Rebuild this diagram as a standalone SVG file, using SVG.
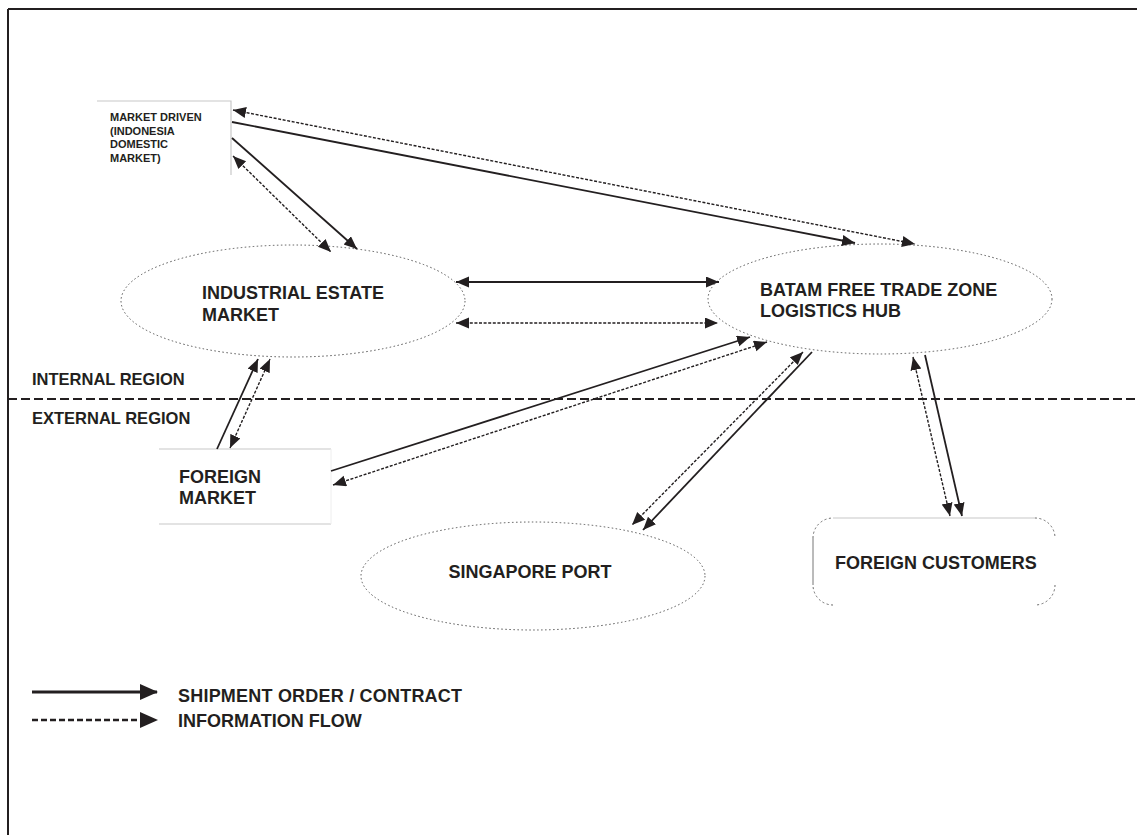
<svg xmlns="http://www.w3.org/2000/svg" width="1137" height="835" viewBox="0 0 1137 835">
<style>
.t{font-family:"Liberation Sans",Arial,sans-serif;font-weight:bold;fill:#231f20}
.big{font-size:18px}
.reg{font-size:16.5px}
.small{font-size:11px}
.ell{fill:none;stroke:#555;stroke-width:1;stroke-dasharray:1.5,2.5}
.sol{fill:none;stroke:#231f20;stroke-width:1.8}
.dot{fill:none;stroke:#231f20;stroke-width:1.4;stroke-dasharray:3,1.6}
.box{fill:none;stroke:#c8c8c8;stroke-width:1.2}
</style>
<defs>
<marker id="ah" markerUnits="userSpaceOnUse" markerWidth="14" markerHeight="12" refX="13" refY="5.5" orient="auto-start-reverse">
<path d="M0,0 L13,5.5 L0,11 z" fill="#231f20"/>
</marker>
</defs>
<rect width="1137" height="835" fill="#fff"/>
<g id="frame">
<line x1="8" y1="9" x2="1137" y2="9" stroke="#231f20" stroke-width="2"/>
<line x1="8" y1="9" x2="8" y2="835" stroke="#231f20" stroke-width="2"/>
</g>
<g id="region-divider">
<line x1="8" y1="399" x2="1137" y2="399" stroke="#231f20" stroke-width="2" stroke-dasharray="9,4"/>
<text class="t reg" x="32" y="385">INTERNAL REGION</text>
<text class="t reg" x="32" y="424">EXTERNAL REGION</text>
</g>
<g id="market-driven">
<polyline class="box" points="97,101 231,101 231,175"/>
<text class="t small" x="110" y="121">MARKET DRIVEN</text>
<text class="t small" x="110" y="134.5">(INDONESIA</text>
<text class="t small" x="110" y="148">DOMESTIC</text>
<text class="t small" x="110" y="161.5">MARKET)</text>
</g>
<g id="industrial-estate">
<ellipse class="ell" cx="293" cy="301" rx="172" ry="56"/>
<text class="t big" x="202" y="299">INDUSTRIAL ESTATE</text>
<text class="t big" x="202" y="321">MARKET</text>
</g>
<g id="batam-hub">
<ellipse class="ell" cx="880" cy="299" rx="172" ry="55"/>
<text class="t big" x="760" y="296">BATAM FREE TRADE ZONE</text>
<text class="t big" x="760" y="317">LOGISTICS HUB</text>
</g>
<g id="foreign-market">
<line class="box" x1="159" y1="449" x2="331" y2="449"/>
<line class="box" x1="159" y1="524" x2="331" y2="524"/>
<line x1="331" y1="449" x2="331" y2="524" stroke="#eee" stroke-width="1"/>
<text class="t big" x="179" y="483">FOREIGN</text>
<text class="t big" x="179" y="504">MARKET</text>
</g>
<g id="singapore-port">
<ellipse class="ell" cx="533" cy="576" rx="172" ry="54"/>
<text class="t big" x="530" y="578" text-anchor="middle">SINGAPORE PORT</text>
</g>
<g id="foreign-customers">
<path d="M813,538 A20,20 0 0 1 833,518 M1035,518 A20,20 0 0 1 1055,538 M1055,585 A20,20 0 0 1 1035,605 M833,605 A20,20 0 0 1 813,585" fill="none" stroke="#666" stroke-width="1" stroke-dasharray="2,2.5"/>
<line x1="833" y1="518" x2="1035" y2="518" stroke="#c8c8c8" stroke-width="1.2"/>
<line x1="813" y1="538" x2="813" y2="585" stroke="#777" stroke-width="1"/>
<text class="t big" x="835" y="569">FOREIGN CUSTOMERS</text>
</g>
<g id="connectors">
<line class="sol" x1="232" y1="122" x2="855" y2="243" marker-end="url(#ah)"/>
<line class="dot" x1="233" y1="110" x2="915" y2="244" marker-start="url(#ah)" marker-end="url(#ah)"/>
<line class="sol" x1="232" y1="138" x2="357" y2="249" marker-end="url(#ah)"/>
<line class="dot" x1="233" y1="156" x2="331" y2="252" marker-start="url(#ah)" marker-end="url(#ah)"/>
<line class="sol" x1="456" y1="282" x2="719" y2="282" marker-start="url(#ah)" marker-end="url(#ah)"/>
<line class="dot" x1="456" y1="323" x2="718" y2="323" marker-start="url(#ah)" marker-end="url(#ah)"/>
<line class="sol" x1="217" y1="449" x2="258" y2="359" marker-end="url(#ah)"/>
<line class="dot" x1="230" y1="448" x2="270" y2="359" marker-start="url(#ah)" marker-end="url(#ah)"/>
<line class="sol" x1="331" y1="471" x2="750" y2="337" marker-end="url(#ah)"/>
<line class="dot" x1="333" y1="485" x2="767" y2="342" marker-start="url(#ah)" marker-end="url(#ah)"/>
<line class="sol" x1="812" y1="352" x2="643" y2="530" marker-end="url(#ah)"/>
<line class="dot" x1="803" y1="352" x2="632" y2="525" marker-start="url(#ah)" marker-end="url(#ah)"/>
<line class="sol" x1="925" y1="355" x2="962" y2="516" marker-end="url(#ah)"/>
<line class="dot" x1="913" y1="357" x2="950" y2="516" marker-start="url(#ah)" marker-end="url(#ah)"/>
</g>
<g id="legend">
<line x1="32" y1="692" x2="157" y2="692" stroke="#231f20" stroke-width="3"/>
<path d="M140,684 L158,692 L140,700 z" fill="#231f20"/>
<line x1="32" y1="720" x2="142" y2="720" stroke="#231f20" stroke-width="2.5" stroke-dasharray="6,3"/>
<path d="M140,712 L158,720 L140,728 z" fill="#231f20"/>
<text class="t big" x="178" y="702" textLength="284">SHIPMENT ORDER / CONTRACT</text>
<text class="t big" x="178" y="727">INFORMATION FLOW</text>
</g>
</svg>
